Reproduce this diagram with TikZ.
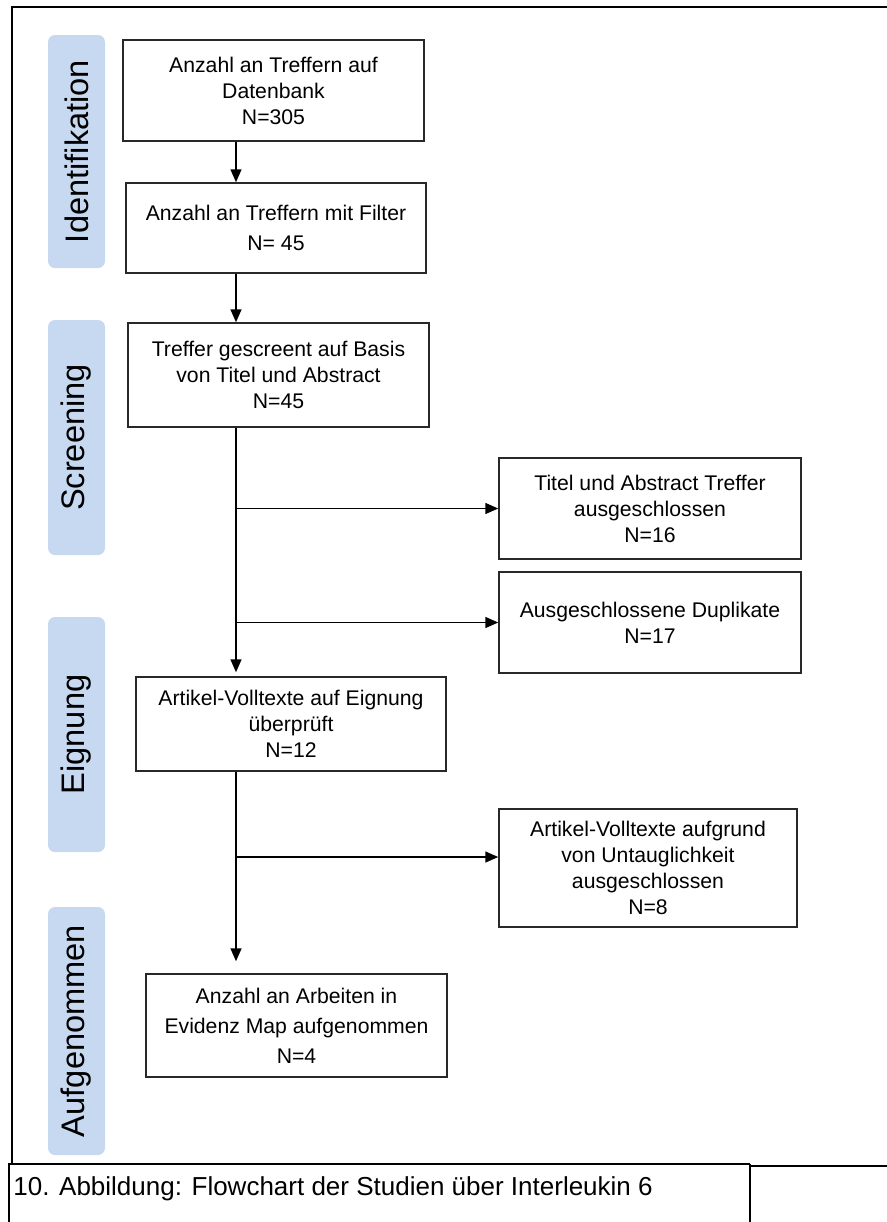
\documentclass[tikz,border=0pt]{standalone}
\usepackage{fontspec}
\setmainfont{Liberation Sans}
\usepackage{xcolor}
\usetikzlibrary{positioning,arrows.meta}
\definecolor{bandblue}{RGB}{198,217,241}
\definecolor{edgegray}{RGB}{40,40,40}

\begin{document}
\begin{tikzpicture}[x=0.5pt, y=-0.5pt,
  box/.style={draw=edgegray, line width=0.75pt, inner sep=0pt, align=center,
    font=\fontsize{10.6pt}{13pt}\selectfont},
  band/.style={fill=bandblue, rounded corners=3.5pt, rotate=90, inner sep=0pt,
    minimum height=28.5pt, font=\fontsize{16.3pt}{18pt}\selectfont},
  arr/.style={-{Triangle[length=6.5pt, width=5.5pt]}, line width=0.75pt, draw=black}]
  \useasboundingbox (0,0) rectangle (887,1222);
  % phases
  \node[band, minimum width=116.5pt] (idf) at (76.5,151.5) {Identifikation};
  \node[band, minimum width=117.5pt] (scr) at (76.5,437.5) {Screening};
  \node[band, minimum width=117.5pt] (eig) at (76.5,734.5) {Eignung};
  \node[band, minimum width=124pt] (auf) at (76.5,1031) {Aufgenommen};
  % main column
  \node[box, minimum width=150.5pt, minimum height=50.5pt] (B1) at (273.5,90.5)
    {Anzahl an Treffern auf\\Datenbank\\N=305};
  \node[box, minimum width=150pt, minimum height=45pt] (B2) at (276,228)
    {Anzahl an Treffern mit Filter\\[2pt]N= 45};
  \node[box, minimum width=150.5pt, minimum height=52pt] (B3) at (278.5,375)
    {Treffer gescreent auf Basis\\von Titel und Abstract\\N=45};
  \node[box, minimum width=155pt, minimum height=47pt] (B4) at (291,724)
    {Artikel-Volltexte auf Eignung\\überprüft\\N=12};
  \node[box, minimum width=150.5pt, minimum height=51.5pt] (B5) at (296.5,1025.5)
    {Anzahl an Arbeiten in\\[2pt]Evidenz Map aufgenommen\\[2pt]N=4};
  % excluded
  \node[box, minimum width=151pt, minimum height=50.5pt] (R1) at (650,508.5)
    {Titel und Abstract Treffer\\ausgeschlossen\\N=16};
  \node[box, minimum width=151pt, minimum height=50.5pt] (R2) at (650,622.5)
    {Ausgeschlossene Duplikate\\N=17};
  \node[box, minimum width=149pt, minimum height=59pt] (R3) at (648,868)
    {Artikel-Volltexte aufgrund\\von Untauglichkeit\\ausgeschlossen\\N=8};
  % connectors
  \coordinate (trunk) at (236,0);
  \coordinate (cut) at (236,857);
  \draw[arr] (B1.south -| trunk) -- (B2.north -| trunk);
  \draw[arr] (B2.south -| trunk) -- (B3.north -| trunk);
  \draw[arr, shorten >=2pt] (B3.south -| trunk) -- (B4.north -| trunk);
  \draw[arr] (R1.west -| trunk) -- (R1.west);
  \draw[arr] (R2.west -| trunk) -- (R2.west);
  \draw[arr, shorten >=6pt] (B4.south -| trunk) -- (B5.north -| trunk);
  \draw[arr] (cut) -- (cut -| R3.west);
  % frame and caption
  \draw[line width=1pt] (892,7) -- (12,7) -- (12,1164);
  \draw[line width=1.2pt] (8,1164) -- (750,1164);
  \draw[line width=0.8pt] (9,1164) -- (9,1226);
  \draw[line width=0.8pt] (750,1164) -- (750,1226);
  \draw[line width=0.8pt] (750,1166) -- (892,1166);
  \node[anchor=west, inner sep=0pt, font=\fontsize{13pt}{15pt}\selectfont] (cap) at (13,1189)
    {10. Abbildung: Flowchart der Studien über Interleukin 6};
\end{tikzpicture}
\end{document}
